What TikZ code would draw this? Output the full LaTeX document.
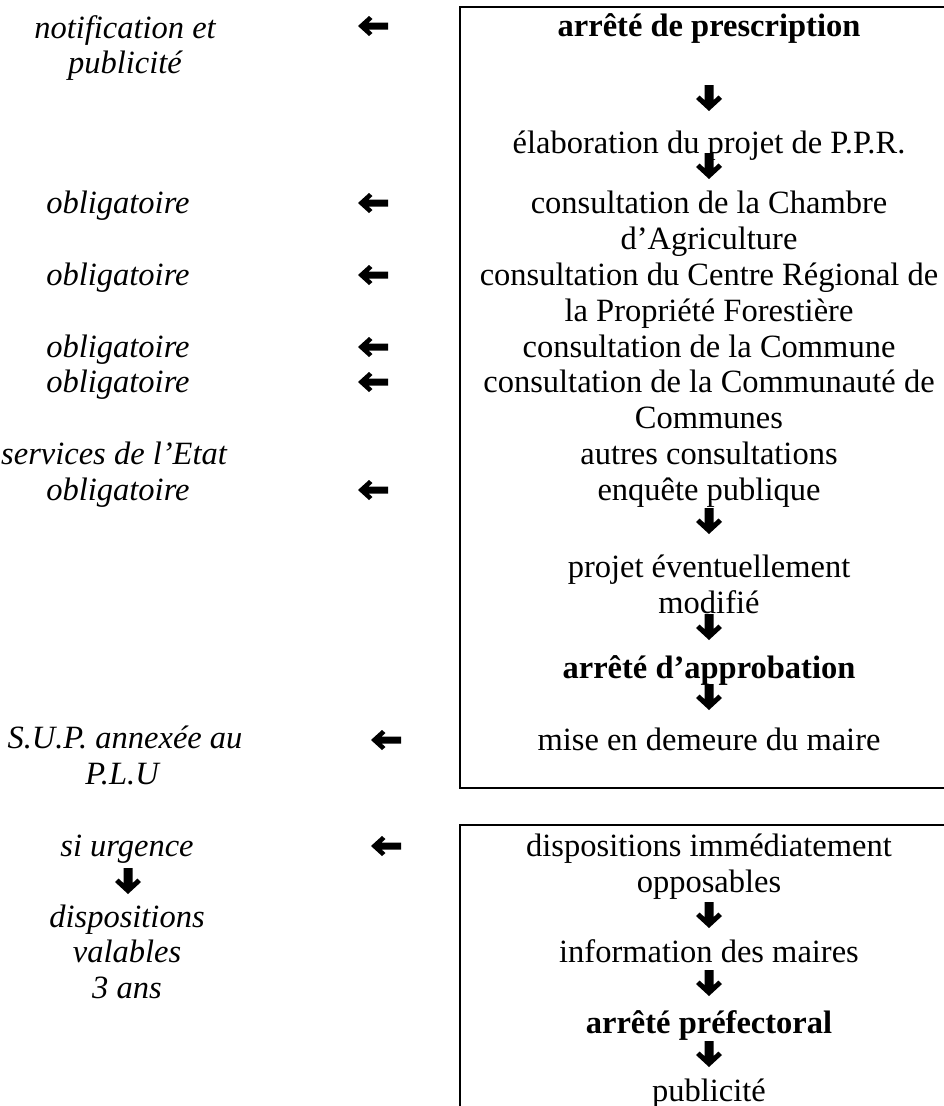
\documentclass[tikz,border=0pt]{standalone}
\usepackage{fontspec}
\setmainfont{Liberation Serif}
\tikzset{
  txt/.style={anchor=base, inner sep=0pt, font=\fontsize{32.5}{36}\selectfont},
  bt/.style={txt, font=\fontsize{32.5}{36}\selectfont\bfseries},
  it/.style={txt, font=\fontsize{32.5}{36}\selectfont\itshape},
  boxline/.style={line width=2.8pt, line cap=rect},
  dnarrow/.pic={\fill (-4.5,-13)--(4.5,-13)--(4.5,2.1)--(9.5,-2.5)--(13,1)--(0,13)--(-13,1)--(-9.5,-2.5)--(-4.5,2.1)--cycle;},
  ltarrow/.pic={\fill (15,3.5)--(-4.35,3.5)--(-0.5,7)--(-4,10)--(-15,0)--(-4,-10)--(-0.5,-7)--(-4.35,-3.5)--(15,-3.5)--cycle;}
}
\begin{document}
\begin{tikzpicture}[x=1pt,y=-1pt]
\useasboundingbox (0,0) rectangle (943,1106);
% boxes
\draw[boxline] (945,7) -- (460,7) -- (460,788) -- (945,788);
\draw[boxline] (945,825) -- (460,825) -- (460,1110);
% right column, first box
\node[bt]  (r1)  at (709,36)  {arrêté de prescription};
\node[txt] (r2)  at (709,153) {élaboration du projet de P.P.R.};
\node[txt] (r3a) at (709,213) {consultation de la Chambre};
\node[txt] (r3b) at (709,249) {d’Agriculture};
\node[txt] (r4a) at (709,285) {consultation du Centre Régional de};
\node[txt] (r4b) at (709,321) {la Propriété Forestière};
\node[txt] (r5)  at (709,357) {consultation de la Commune};
\node[txt] (r6a) at (709,392) {consultation de la Communauté de};
\node[txt] (r6b) at (709,428) {Communes};
\node[txt] (r7)  at (709,464) {autres consultations};
\node[txt] (r8)  at (709,500) {enquête publique};
\node[txt] (r9a) at (709,577) {projet éventuellement};
\node[txt] (r9b) at (709,613) {modifié};
\node[bt]  (r10) at (709,678) {arrêté d’approbation};
\node[txt] (r11) at (709,750) {mise en demeure du maire};
% second box
\node[txt] (s1a) at (709,856)  {dispositions immédiatement};
\node[txt] (s1b) at (709,892)  {opposables};
\node[txt] (s2)  at (709,962)  {information des maires};
\node[bt]  (s3)  at (709,1033) {arrêté préfectoral};
\node[txt] (s4)  at (709,1101) {publicité};
% down arrows
\pic at (709,98)   {dnarrow};
\pic at (709,166)  {dnarrow};
\pic at (709,521)  {dnarrow};
\pic at (709,627)  {dnarrow};
\pic at (709,697)  {dnarrow};
\pic at (709,915)  {dnarrow};
\pic at (709,983)  {dnarrow};
\pic at (709,1054) {dnarrow};
% left column
\node[it] (l1a) at (125,38)  {notification et};
\node[it] (l1b) at (125,73)  {publicité};
\node[it] (l2)  at (118,213) {obligatoire};
\node[it] (l3)  at (118,285) {obligatoire};
\node[it] (l4)  at (118,357) {obligatoire};
\node[it] (l5)  at (118,392) {obligatoire};
\node[it] (l6a) at (114,464) {services de l’Etat};
\node[it] (l6b) at (118,500) {obligatoire};
\node[it] (l7a) at (125,748) {S.U.P. annexée au};
\node[it] (l7b) at (122,784) {P.L.U};
\node[it] (l8a) at (127,856) {si urgence};
\node[it] (l8b) at (127,927) {dispositions};
\node[it] (l8c) at (127,962) {valables};
\node[it] (l8d) at (127,998) {3 ans};
\pic at (128,881) {dnarrow};
% left arrows
\pic at (373,26)  {ltarrow};
\pic at (373,203) {ltarrow};
\pic at (373,275) {ltarrow};
\pic at (373,347) {ltarrow};
\pic at (373,382) {ltarrow};
\pic at (373,490) {ltarrow};
\pic at (386,740) {ltarrow};
\pic at (386,846) {ltarrow};
\end{tikzpicture}
\end{document}
